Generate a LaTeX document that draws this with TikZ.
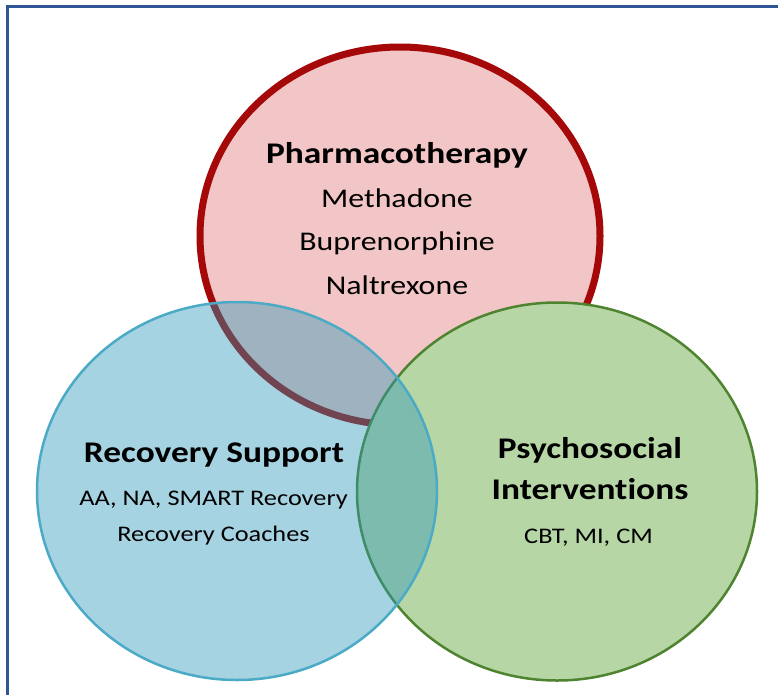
\documentclass[tikz,border=0pt]{standalone}
\usepackage{fontspec}
\setmainfont[FakeStretch=1.18, Ligatures=NoCommon]{Carlito}
\usetikzlibrary{shapes.geometric}
\definecolor{pharmfill}{RGB}{242,198,198}
\definecolor{pharmline}{RGB}{165,8,8}
\definecolor{psyfill}{RGB}{183,214,165}
\definecolor{psyline}{RGB}{78,132,48}
\definecolor{recfill}{RGB}{43,152,186}
\definecolor{recline}{RGB}{75,170,198}
\definecolor{framecol}{RGB}{47,85,151}
\begin{document}
\begin{tikzpicture}[x=1pt,y=-1pt,
  venn/.style={ellipse, minimum width=400pt, minimum height=378pt, inner sep=0pt},
  head/.style={anchor=base, font=\fontsize{30}{36}\selectfont\bfseries, text=black, inner sep=0pt},
  item/.style={anchor=base, font=\fontsize{27}{32}\selectfont, text=black, inner sep=0pt},
  small/.style={anchor=base, font=\fontsize{22.3}{27}\selectfont, text=black, inner sep=0pt}]
\useasboundingbox (0,0) rectangle (778,694);
\clip (0,0) rectangle (778,694);
\fill[white] (0,0) rectangle (778,694);
\draw[framecol, line width=2.5pt] (7.5,700) -- (7.5,6.5) -- (790,6.5);
% circles
\node[venn, fill=pharmfill, draw=pharmline, line width=7pt] (pharm) at (400,236) {};
\node[venn, fill=psyfill, draw=psyline, line width=2.5pt] (psy) at (557,491.5) {};
\node[venn, fill=recfill, fill opacity=0.42, draw=recline, line width=2.5pt] (rec) at (237,491) {};
% texts
\node[head] (pharmT) at (397,163) {Pharmacotherapy};
\node[item] (meth) at (397,207) {Methadone};
\node[item] (bup) at (397,250.5) {Buprenorphine};
\node[item] (nal) at (397,294) {Naltrexone};
\node[head] (recT) at (214,462.5) {Recovery Support};
\node[small] (aa) at (213.5,505.5) {AA, NA, SMART Recovery};
\node[small] (coach) at (213.5,541.5) {Recovery Coaches};
\node[head] (psyT1) at (590,458.5) {Psychosocial};
\node[head] (psyT2) at (590,499) {Interventions};
\node[small] (cbt) at (588.5,543.5) {CBT, MI, CM};
\end{tikzpicture}
\end{document}
